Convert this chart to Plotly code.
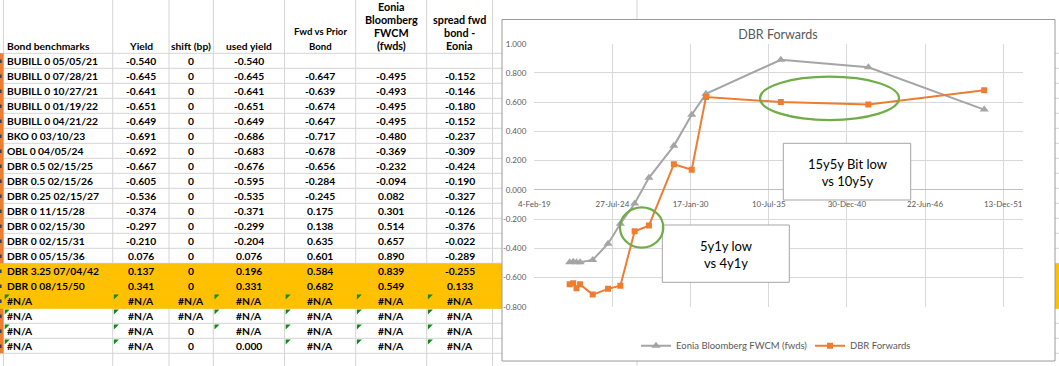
import plotly.graph_objects as go
from datetime import datetime, timedelta

W, H = 1059, 366

# ---------------- data ----------------
bond_names = ["BUBILL 0 05/05/21", "BUBILL 0 07/28/21", "BUBILL 0 10/27/21", "BUBILL 0 01/19/22",
              "BUBILL 0 04/21/22", "BKO 0 03/10/23", "OBL 0 04/05/24", "DBR 0.5 02/15/25",
              "DBR 0.5 02/15/26", "DBR 0.25 02/15/27", "DBR 0 11/15/28", "DBR 0 02/15/30",
              "DBR 0 02/15/31", "DBR 0 05/15/36", "DBR 3.25 07/04/42", "DBR 0 08/15/50",
              "#N/A", "#N/A", "#N/A", "#N/A"]
yields = [-0.540, -0.645, -0.641, -0.651, -0.649, -0.691, -0.692, -0.667, -0.605, -0.536,
          -0.374, -0.297, -0.210, 0.076, 0.137, 0.341, "#N/A", "#N/A", "#N/A", "#N/A"]
shift_bp = [0] * 16 + ["#N/A", "#N/A", 0, 0]
used_yield = [-0.540, -0.645, -0.641, -0.651, -0.649, -0.686, -0.683, -0.676, -0.595, -0.535,
              -0.371, -0.299, -0.204, 0.076, 0.196, 0.331, "#N/A", "#N/A", "#N/A", 0.000]
fwd_vs_prior = [None, -0.647, -0.639, -0.674, -0.647, -0.717, -0.678, -0.656, -0.284, -0.245,
                0.175, 0.138, 0.635, 0.601, 0.584, 0.682, "#N/A", "#N/A", "#N/A", "#N/A"]
eonia_fwds = [None, -0.495, -0.493, -0.495, -0.495, -0.480, -0.369, -0.232, -0.094, 0.082,
              0.301, 0.514, 0.657, 0.890, 0.839, 0.549, "#N/A", "#N/A", "#N/A", "#N/A"]
spread_fwd = [None, -0.152, -0.146, -0.180, -0.152, -0.237, -0.309, -0.424, -0.190, -0.327,
              -0.126, -0.376, -0.022, -0.289, -0.255, 0.133, "#N/A", "#N/A", "#N/A", "#N/A"]

headers = ["Bond benchmarks", "Yield", "shift (bp)", "used yield", "Fwd vs Prior<br>Bond",
           "Eonia<br>Bloomberg<br>FWCM<br>(fwds)", "spread fwd<br>bond -<br>Eonia"]
highlight_rows = [14, 15, 16]

chart_title = "DBR Forwards"
series_names = ["Eonia Bloomberg FWCM (fwds)", "DBR Forwards"]
y_ticks = [-0.8, -0.6, -0.4, -0.2, 0.0, 0.2, 0.4, 0.6, 0.8, 1.0]
y_ticklabels = ["-0.800", "-0.600", "-0.400", "-0.200", "0.000", "0.200", "0.400", "0.600", "0.800", "1.000"]
x_axis_min_serial, x_axis_max_serial, x_major_days = 43500, 56000, 2000
note_texts = ["5y1y low<br>vs 4y1y", "15y5y Bit low<br>vs 10y5y"]

# ---------------- helpers ----------------
def px(x):
    return x / W

def py(y):
    return 1 - y / H

def excel_date(serial):
    return datetime(1899, 12, 30) + timedelta(days=serial)

def maturity(name):
    m, d, y = name.split()[-1].split("/")
    return datetime(2000 + int(y), int(m), int(d))

def fmt(v):
    if isinstance(v, str):
        return v
    if isinstance(v, int):
        return str(v)
    return f"{v:.3f}"

fig = go.Figure()
shapes = []
annos = []

GRID = "#D4D4D4"
col_x = [3.5, 112.7, 169.0, 213.3, 284.5, 355.7, 426.7, 492.5]
row_top = 53.3
row_h = 15.0
n_rows = len(bond_names)

# spreadsheet grid lines
for cx in col_x + [637.0]:
    shapes.append(dict(type="line", xref="paper", yref="paper", x0=px(cx), x1=px(cx), y0=py(0), y1=py(H),
                       line=dict(color=GRID, width=1), layer="below"))
for k in range(n_rows + 1):
    yy = row_top + k * row_h
    shapes.append(dict(type="line", xref="paper", yref="paper", x0=0, x1=1, y0=py(yy), y1=py(yy),
                       line=dict(color=GRID, width=1), layer="below"))
# orange strip on the far left
shapes.append(dict(type="rect", xref="paper", yref="paper", x0=0, x1=px(3.5),
                   y0=py(row_top), y1=py(row_top + n_rows * row_h),
                   fillcolor="#ED7D31", line=dict(width=0), layer="below"))
# gold highlighted rows
for r in highlight_rows:
    shapes.append(dict(type="rect", xref="paper", yref="paper", x0=0, x1=1,
                       y0=py(row_top + r * row_h), y1=py(row_top + (r + 1) * row_h + 0.5),
                       fillcolor="#FFC000", line=dict(width=0), layer="below"))
# tiny cut-off marks at left edge
for r in range(n_rows):
    yc = row_top + r * row_h + 8
    shapes.append(dict(type="rect", xref="paper", yref="paper", x0=0, x1=px(1.6),
                       y0=py(yc - 1.8), y1=py(yc + 1.8), fillcolor="#34405A", line=dict(width=0), layer="below"))

# chart area
shapes.append(dict(type="rect", xref="paper", yref="paper", x0=px(502), x1=px(1055), y0=py(361), y1=py(19.5),
                   fillcolor="white", line=dict(color="#9A9A9A", width=1), layer="below"))

TFONT = "Lato, 'Open Sans', Arial, sans-serif"

def txt(x, y, s, size, anchor="center", color="black", bold=True, yanchor="middle"):
    annos.append(dict(x=px(x), y=py(y), xref="paper", yref="paper", text=(f"<b>{s}</b>" if bold else s),
                      showarrow=False, xanchor=anchor, yanchor=yanchor, borderpad=0,
                      font=dict(family=TFONT, size=size, color=color)))

# headers (one annotation per line, bottom line aligned near the header row bottom)
hdr_size = [10.3, 10.3, 10.3, 10.3, 9.6, 10.8, 10.8]
hdr_step = [13, 13, 13, 13, 15, 13, 13]
for c, h in enumerate(headers):
    cx = 6 if c == 0 else (col_x[c] + col_x[c + 1]) / 2
    anchor = "left" if c == 0 else "center"
    lines = h.split("<br>")
    bottom = 46.5 if c <= 4 else 45.3
    for i, ln in enumerate(lines):
        txt(cx, bottom - (len(lines) - 1 - i) * hdr_step[c], ln, hdr_size[c], anchor=anchor)

# cells
columns = [bond_names, yields, shift_bp, used_yield, fwd_vs_prior, eonia_fwds, spread_fwd]
for c, col in enumerate(columns):
    for r, v in enumerate(col):
        if v is None:
            continue
        yc = row_top + r * row_h + 8
        if c == 0:
            txt(6, yc, v, 10.3, anchor="left")
        else:
            txt((col_x[c] + col_x[c + 1]) / 2, yc, fmt(v), 10.3)

# error-indicator triangles on #N/A formula cells
for c, col in enumerate(columns):
    if c == 2:
        continue
    for r, v in enumerate(col):
        if isinstance(v, str) and v == "#N/A":
            x0 = col_x[c] + 1.2
            y0 = row_top + r * row_h + 1.2
            shapes.append(dict(type="path", xref="paper", yref="paper",
                               path=f"M {px(x0)},{py(y0)} L {px(x0 + 5)},{py(y0)} L {px(x0)},{py(y0 + 5)} Z",
                               fillcolor="#0E8A16", line=dict(width=0), layer="above"))

# ---------------- chart ----------------
chart_idx = [i for i, v in enumerate(fwd_vs_prior) if isinstance(v, float)]
x_dates = [maturity(bond_names[i]) for i in chart_idx]

fig.add_trace(go.Scatter(x=x_dates, y=[eonia_fwds[i] for i in chart_idx], name=series_names[0],
                         mode="lines+markers", line=dict(color="#A5A5A5", width=2),
                         marker=dict(symbol="triangle-up", size=8, color="#A5A5A5"), legend="legend"))
fig.add_trace(go.Scatter(x=x_dates, y=[fwd_vs_prior[i] for i in chart_idx], name=series_names[1],
                         mode="lines+markers", line=dict(color="#ED7D31", width=2),
                         marker=dict(symbol="square", size=6, color="#ED7D31"), legend="legend2"))

# note boxes and ellipses (decorations)
boxes = [(662.3, 225.0, 789.3, 282.3), (783.3, 143.3, 910.7, 200.0)]
for (x0, y0, x1, y1), t in zip(boxes, note_texts):
    shapes.append(dict(type="rect", xref="paper", yref="paper", x0=px(x0), x1=px(x1), y0=py(y1), y1=py(y0),
                       fillcolor="white", line=dict(color="#A6A6A6", width=1), layer="above"))
    annos.append(dict(x=px((x0 + x1) / 2), y=py((y0 + y1) / 2 + 0.5), xref="paper", yref="paper", text=t,
                      showarrow=False, xanchor="center", yanchor="middle",
                      font=dict(family=TFONT, size=13, color="black")))
for (x0, y0, x1, y1) in [(620, 207.3, 663.3, 247.7), (760, 76.7, 899, 120)]:
    shapes.append(dict(type="circle", xref="paper", yref="paper", x0=px(x0), x1=px(x1), y0=py(y1), y1=py(y0),
                       line=dict(color="#70AD47", width=2.25), layer="above"))

CH_GRAY = "#595959"
fig.update_layout(
    width=W, height=H, margin=dict(l=0, r=0, t=0, b=0, pad=0, autoexpand=False),
    paper_bgcolor="white", plot_bgcolor="rgba(0,0,0,0)",
    title=dict(text=chart_title, x=px(778), y=py(35), xanchor="center", yanchor="middle",
               font=dict(family=TFONT, size=12.5, color=CH_GRAY)),
    xaxis=dict(type="date", domain=[px(534.3), px(1022.7)],
               range=[excel_date(x_axis_min_serial), excel_date(x_axis_max_serial)],
               tickmode="linear", tick0=excel_date(x_axis_min_serial), dtick=x_major_days * 86400000,
               tickformat="%-d-%b-%y", showgrid=True, gridcolor="#D9D9D9", gridwidth=1,
               zeroline=False, showline=False, ticks="", anchor="free", position=py(190),
               automargin=False, ticklabelstandoff=8,
               tickfont=dict(family=TFONT, size=8, color=CH_GRAY)),
    yaxis=dict(domain=[py(306.7), py(43.7)], range=[-0.8, 1.0], tickmode="array",
               tickvals=y_ticks, ticktext=y_ticklabels, showgrid=True, gridcolor="#D9D9D9", gridwidth=1,
               zeroline=True, zerolinecolor="#BFBFBF", zerolinewidth=1, showline=False, ticks="",
               automargin=False, ticklabelstandoff=7, tickfont=dict(family=TFONT, size=8, color=CH_GRAY)),
    legend=dict(orientation="h", x=px(636), y=py(345.7), xanchor="left", yanchor="middle",
                bgcolor="rgba(0,0,0,0)", font=dict(family=TFONT, size=9.5, color=CH_GRAY)),
    legend2=dict(orientation="h", x=px(810), y=py(345.7), xanchor="left", yanchor="middle",
                 bgcolor="rgba(0,0,0,0)", font=dict(family=TFONT, size=9.5, color=CH_GRAY)),
    shapes=shapes, annotations=annos, showlegend=True,
)

fig.write_html("out.html", config={"displayModeBar": False},
               post_script="document.body.style.margin='0px';document.body.style.overflow='hidden';")
